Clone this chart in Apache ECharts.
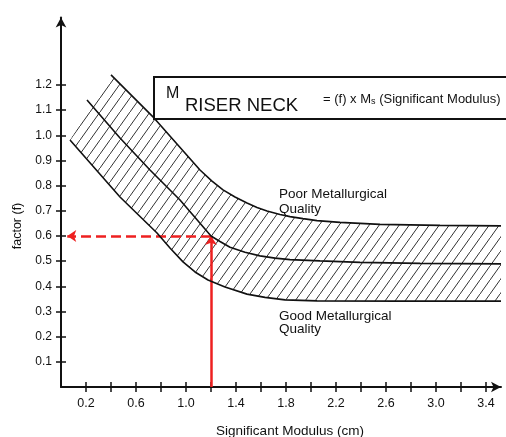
<!DOCTYPE html>
<html><head><meta charset="utf-8">
<script src="https://cdn.jsdelivr.net/npm/echarts@6/dist/echarts.min.js"></script>
<style>html,body{margin:0;padding:0;background:#fff}#c{width:506px;height:437px}</style>
</head><body><div id="c"></div>
<script>
// ---- data ----
const upperX = [0.400, 0.744, 1.112, 1.208, 1.296, 1.392, 1.488, 1.568, 1.648, 1.752, 1.832, 1.936, 2.048, 2.232, 2.552, 3.032, 3.52];
const upperY = [1.240, 1.069, 0.862, 0.818, 0.783, 0.755, 0.731, 0.713, 0.699, 0.685, 0.677, 0.669, 0.661, 0.654, 0.646, 0.642, 0.640];
const middleX = [0.208, 0.472, 0.712, 0.952, 1.200, 1.272, 1.352, 1.472, 1.592, 1.712, 1.832, 2.072, 2.392, 2.872, 3.52];
const middleY = [1.140, 0.989, 0.862, 0.743, 0.600, 0.578, 0.555, 0.535, 0.521, 0.512, 0.506, 0.501, 0.495, 0.491, 0.489];
const lowerX = [0.072, 0.472, 0.768, 0.872, 0.976, 1.072, 1.176, 1.312, 1.488, 1.632, 1.792, 2.048, 2.712, 3.52];
const lowerY = [0.981, 0.755, 0.612, 0.552, 0.497, 0.457, 0.425, 0.397, 0.369, 0.356, 0.346, 0.342, 0.341, 0.341];
const readX = 1.2, readY = 0.6, arrowEndX = 0.05;
const xTicks = [0.2,0.4,0.6,0.8,1.0,1.2,1.4,1.6,1.8,2.0,2.2,2.4,2.6,2.8,3.0,3.2,3.4];
const xLabels = [0.2,0.6,1.0,1.4,1.8,2.2,2.6,3.0,3.4];
const yTicks = [0.1,0.2,0.3,0.4,0.5,0.6,0.7,0.8,0.9,1.0,1.1,1.2];
const xMin = 0, xMax = 3.52, yMin = 0, yMax = 1.468;

const FONT = '"Liberation Sans", Arial, sans-serif';
const INK = '#111';
const RED = '#ee2020';

function hatch(){
  const w = 10, h = 14, c = document.createElement('canvas');
  c.width = w; c.height = h;
  const g = c.getContext('2d');
  g.strokeStyle = '#333'; g.lineWidth = 1;
  g.beginPath(); g.moveTo(-w, 2*h); g.lineTo(2*w, -h); g.stroke();
  return c;
}
const pattern = {image: hatch(), repeat: 'repeat'};
const zip = (xs, ys) => xs.map((x, i) => [x, ys[i]]);

const chart = echarts.init(document.getElementById('c'), null, {renderer: 'canvas'});
const gridPos = {left: 61, right: 5, top: 17.5, bottom: 50};
const baseX = (gi, show) => ({
  type: 'value', gridIndex: gi, min: xMin, max: xMax, splitLine: {show: false},
  axisLine: {show: show, symbol: ['none', 'arrow'], symbolSize: [8, 10], lineStyle: {color: INK, width: 2}},
  axisTick: {show: true, inside: !show, length: 5, customValues: xTicks, lineStyle: {color: INK, width: 1.5}},
  axisLabel: {show: show, customValues: xLabels, margin: 10, fontSize: 12.5, color: INK, fontFamily: FONT,
    formatter: v => v.toFixed(1)}
});
const baseY = (gi, show) => ({
  type: 'value', gridIndex: gi, min: yMin, max: yMax, splitLine: {show: false},
  axisLine: {show: show, symbol: ['none', 'arrow'], symbolSize: [8, 10], lineStyle: {color: INK, width: 2}},
  axisTick: {show: true, inside: !show, length: 5, customValues: yTicks, lineStyle: {color: INK, width: 1.5}},
  axisLabel: {show: show, customValues: yTicks, margin: 9, fontSize: 12, color: INK, fontFamily: FONT,
    formatter: v => v.toFixed(1)}
});

const curve = (name, data) => ({
  type: 'line', name, data, xAxisIndex: 0, yAxisIndex: 0, symbol: 'none', smooth: false,
  lineStyle: {color: INK, width: 1.6}, z: 5, silent: true
});

chart.setOption({
  animation: false,
  backgroundColor: '#fff',
  grid: [Object.assign({}, gridPos), Object.assign({}, gridPos)],
  xAxis: [baseX(0, true), baseX(1, false)],
  yAxis: [baseY(0, true), baseY(1, false)],
  series: [
    {
      type: 'custom', xAxisIndex: 0, yAxisIndex: 0, data: [[0, 0]], silent: true, z: 2,
      renderItem: function (params, api) {
        const pts = [];
        for (let i = 0; i < upperX.length; i++) pts.push(api.coord([upperX[i], upperY[i]]));
        for (let i = lowerX.length - 1; i >= 0; i--) pts.push(api.coord([lowerX[i], lowerY[i]]));
        return {type: 'polygon', shape: {points: pts}, style: {fill: pattern, stroke: null}};
      }
    },
    curve('Poor Metallurgical Quality', zip(upperX, upperY)),
    curve('Middle', zip(middleX, middleY)),
    curve('Good Metallurgical Quality', zip(lowerX, lowerY)),
    {
      type: 'line', xAxisIndex: 0, yAxisIndex: 0, data: [], z: 8, silent: true,
      markLine: {
        silent: true, symbol: ['none', 'arrow'], symbolSize: 9, label: {show: false},
        lineStyle: {color: RED, width: 2.5, type: 'solid'},
        data: [[{coord: [readX, yMin]}, {coord: [readX, readY]}]]
      }
    },
    {
      type: 'line', xAxisIndex: 0, yAxisIndex: 0, data: [], z: 8, silent: true,
      markLine: {
        silent: true, symbol: ['none', 'arrow'], symbolSize: 9, label: {show: false},
        lineStyle: {color: RED, width: 2.5, type: [10, 5]},
        data: [[{coord: [readX, readY]}, {coord: [arrowEndX, readY]}]]
      }
    }
  ],
  graphic: [
    {type: 'rect', z: 50, shape: {x: 154, y: 77, width: 420, height: 42},
      style: {fill: '#fff', stroke: INK, lineWidth: 2}},
    {type: 'text', z: 51, x: 166, y: 94,
      style: {text: 'M', fontSize: 16, fontFamily: FONT, fill: INK, verticalAlign: 'middle'}},
    {type: 'text', z: 51, x: 185, y: 106,
      style: {text: 'RISER NECK', fontSize: 18.5, fontFamily: FONT, fill: INK, verticalAlign: 'middle'}},
    {type: 'text', z: 51, x: 323, y: 99,
      style: {text: '{a|= (f) x M}{s|s}{a| (Significant Modulus)}', fontFamily: FONT, fill: INK, verticalAlign: 'middle',
        rich: {a: {fontSize: 13, fontFamily: FONT, fill: INK}, s: {fontSize: 9, fontFamily: FONT, fill: INK, padding: [5, 0, 0, 0]}}}},
    {type: 'text', z: 51, x: 279, y: 202,
      style: {text: 'Poor Metallurgical\nQuality', fontSize: 13.5, lineHeight: 15, fontFamily: FONT, fill: INK, verticalAlign: 'middle'}},
    {type: 'text', z: 51, x: 279, y: 323,
      style: {text: 'Good Metallurgical\nQuality', fontSize: 13.5, lineHeight: 13, fontFamily: FONT, fill: INK, verticalAlign: 'middle'}},
    {type: 'text', z: 51, x: 18, y: 226, rotation: Math.PI / 2,
      style: {text: 'factor (f)', fontSize: 12.5, fontFamily: FONT, fill: INK, align: 'center', verticalAlign: 'middle'}},
    {type: 'text', z: 51, x: 290, y: 431,
      style: {text: 'Significant Modulus (cm)', fontSize: 13.5, fontFamily: FONT, fill: INK, align: 'center', verticalAlign: 'middle'}}
  ]
});
</script>
</body></html>
